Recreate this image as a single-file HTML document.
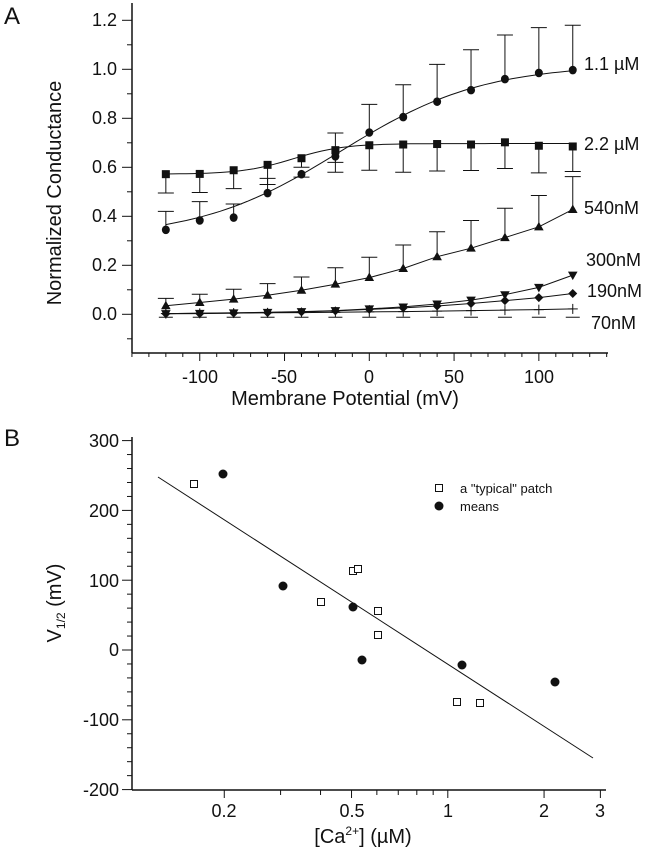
<!DOCTYPE html>
<html><head><meta charset="utf-8"><style>
body{margin:0;background:#fff;}
svg{display:block;font-family:"Liberation Sans",sans-serif;}
</style></head><body>
<svg id="s" width="655" height="853" viewBox="0 0 655 853" xmlns="http://www.w3.org/2000/svg">
<g font-size="18" fill="#111">
<text x="4" y="24" font-size="24">A</text>
<text x="117" y="26" text-anchor="end">1.2</text>
<text x="117" y="75" text-anchor="end">1.0</text>
<text x="117" y="124" text-anchor="end">0.8</text>
<text x="117" y="173" text-anchor="end">0.6</text>
<text x="117" y="222" text-anchor="end">0.4</text>
<text x="117" y="271" text-anchor="end">0.2</text>
<text x="117" y="320" text-anchor="end">0.0</text>
<text x="200" y="383" text-anchor="middle">-100</text>
<text x="284" y="383" text-anchor="middle">-50</text>
<text x="369" y="383" text-anchor="middle">0</text>
<text x="454" y="383" text-anchor="middle">50</text>
<text x="539" y="383" text-anchor="middle">100</text>
<text x="345" y="405" text-anchor="middle" font-size="20">Membrane Potential (mV)</text>
<text transform="translate(61,193) rotate(-90)" text-anchor="middle" font-size="20">Normalized Conductance</text>
<text x="584" y="70">1.1 µM</text>
<text x="584" y="150">2.2 µM</text>
<text x="584" y="214">540nM</text>
<text x="586" y="266">300nM</text>
<text x="587" y="297">190nM</text>
<text x="591" y="329">70nM</text>

<text x="4" y="446" font-size="24">B</text>
<text x="119" y="447" text-anchor="end">300</text>
<text x="119" y="517" text-anchor="end">200</text>
<text x="119" y="587" text-anchor="end">100</text>
<text x="119" y="656" text-anchor="end">0</text>
<text x="119" y="726" text-anchor="end">-100</text>
<text x="119" y="796" text-anchor="end">-200</text>
<text x="224" y="817" text-anchor="middle">0.2</text>
<text x="352" y="817" text-anchor="middle">0.5</text>
<text x="448" y="817" text-anchor="middle">1</text>
<text x="544" y="817" text-anchor="middle">2</text>
<text x="600" y="817" text-anchor="middle">3</text>
<text x="363" y="843" text-anchor="middle" font-size="20">[Ca<tspan font-size="12" dy="-8">2+</tspan><tspan dy="8">] (µM)</tspan></text>
<text transform="translate(61,603) rotate(-90)" text-anchor="middle" font-size="20">V<tspan font-size="12" dy="4">1/2</tspan><tspan dy="-4"> (mV)</tspan></text>
<text x="460" y="493" font-size="13">a "typical" patch</text>
<text x="460" y="511" font-size="13">means</text>
</g>
<g id="g" stroke="#111" fill="none" stroke-width="1"></g>
</svg>
<script>
var g=document.getElementById('g'),o='';
function L(a,b,c,d,w){o+='<line x1="'+a+'" y1="'+b+'" x2="'+c+'" y2="'+d+'"'+(w?' stroke-width="'+w+'"':'')+'/>';}
L(132,3,132,353,1.5);L(132,353,608,353,1.5);
function X(v){return 369.3+1.6955*v}function Y(g){return 314.3-245*g}
for(var k=-1;k<=12;k++){var y=Y(k/10);L(132,y,k%2==0?122:127,y);}
for(var v=-140;v<=140;v+=10){var x=X(v);L(x,353,x,v%50==0?361:357);}
var vs=[-120,-100,-80,-60,-40,-20,0,20,40,60,80,100,120];
var S={
c:[.345,.383,.395,.495,.572,.645,.742,.805,.868,.915,.96,.985,.997],
s:[.572,.573,.588,.61,.637,.67,.69,.693,.695,.693,.702,.688,.685],
t:[.035,.048,.062,.078,.098,.123,.15,.187,.235,.27,.313,.357,.428],
d:[.003,.004,.006,.008,.011,.015,.022,.03,.042,.058,.08,.11,.16],
m:[.002,.003,.005,.007,.01,.014,.02,.026,.034,.044,.056,.068,.085],
p:[.003,.004,.005,.006,.007,.008,.01,.011,.013,.015,.017,.019,.022]};
var F={c:function(v){return .31+.71/(1+Math.exp(-(v+17)/42))},
s:function(v){return .572+.125/(1+Math.exp(-(v+45)/15))}};
var E={c:[.42,.46,.45,.555,.56,.62,.857,.937,1.02,1.08,1.14,1.17,1.18],
s:[.495,.497,.513,.53,.6,.58,.588,.58,.585,.587,.595,.577,.583],
t:[.065,.082,.102,.125,.152,.19,.233,.283,.337,.383,.433,.485,.562]};
for(var key in E){for(var i=0;i<13;i++){var x=X(vs[i]);L(x,Y(S[key][i]),x,Y(E[key][i]));L(x-8,Y(E[key][i]),x+8,Y(E[key][i]));}}
L(X(-20),Y(.67),X(-20),Y(.74));L(X(-20)-8,Y(.74),X(-20)+8,Y(.74));
for(var i=0;i<13;i++){var x=X(vs[i]);L(x-7,Y(-.012),x+7,Y(-.012));}
for(var key in S){var pts;
if(F[key]){pts=[];for(var v=-120;v<=120;v+=4)pts.push(X(v).toFixed(1)+','+Y(F[key](v)).toFixed(1));pts=pts.join(' ');}
else pts=S[key].map(function(g,i){return X(vs[i]).toFixed(1)+','+Y(g).toFixed(1)}).join(' ');
o+='<polyline points="'+pts+'"/>';}
for(var i=0;i<13;i++){var x=X(vs[i]);
var y=Y(S.c[i]);o+='<ellipse cx="'+x+'" cy="'+y+'" rx="4" ry="4.3" fill="#111" stroke="none"/>';
y=Y(S.s[i]);o+='<rect x="'+(x-4)+'" y="'+(y-4)+'" width="8" height="8" fill="#111" stroke="none"/>';
y=Y(S.t[i]);o+='<polygon points="'+x+','+(y-5)+' '+(x-4.8)+','+(y+3.5)+' '+(x+4.8)+','+(y+3.5)+'" fill="#111" stroke="none"/>';
y=Y(S.d[i]);o+='<polygon points="'+x+','+(y+5)+' '+(x-4.8)+','+(y-3.5)+' '+(x+4.8)+','+(y-3.5)+'" fill="#111" stroke="none"/>';
y=Y(S.m[i]);o+='<polygon points="'+x+','+(y-4.5)+' '+(x+4.5)+','+y+' '+x+','+(y+4.5)+' '+(x-4.5)+','+y+'" fill="#111" stroke="none"/>';
y=Y(S.p[i]);L(x-5,y,x+5,y);L(x,y-5,x,y+5);}
L(132,437,132,790,1.5);L(132,790,606,790,1.5);
function BY(v){return 650-0.698*v}function BX(c){return 447.8+319.8*Math.log10(c)}
for(var v=-200;v<=300;v+=20){var y=BY(v);L(132,y,v%100==0?122:127,y);}
[.2,.3,.4,.5,.6,.7,.8,.9,1,2,3].forEach(function(c){var x=BX(c);var maj=(c==.2||c==.5||c==1||c==2||c==3);L(x,790,x,maj?798:795);});
L(158,477,593,758);
[[194,484],[353,571],[358,569],[321,602],[378,611],[378,635],[457,702],[480,703],[439,488]].forEach(function(p){o+='<rect x="'+(p[0]-3.5)+'" y="'+(p[1]-3.5)+'" width="7" height="7" fill="#fff"/>';});
[[223,474],[283,586],[353,607],[362,660],[462,665],[555,682],[439,506]].forEach(function(p){o+='<ellipse cx="'+p[0]+'" cy="'+p[1]+'" rx="4.5" ry="4.5" fill="#111" stroke="none"/>';});
g.innerHTML=o;
</script>
</body></html>
